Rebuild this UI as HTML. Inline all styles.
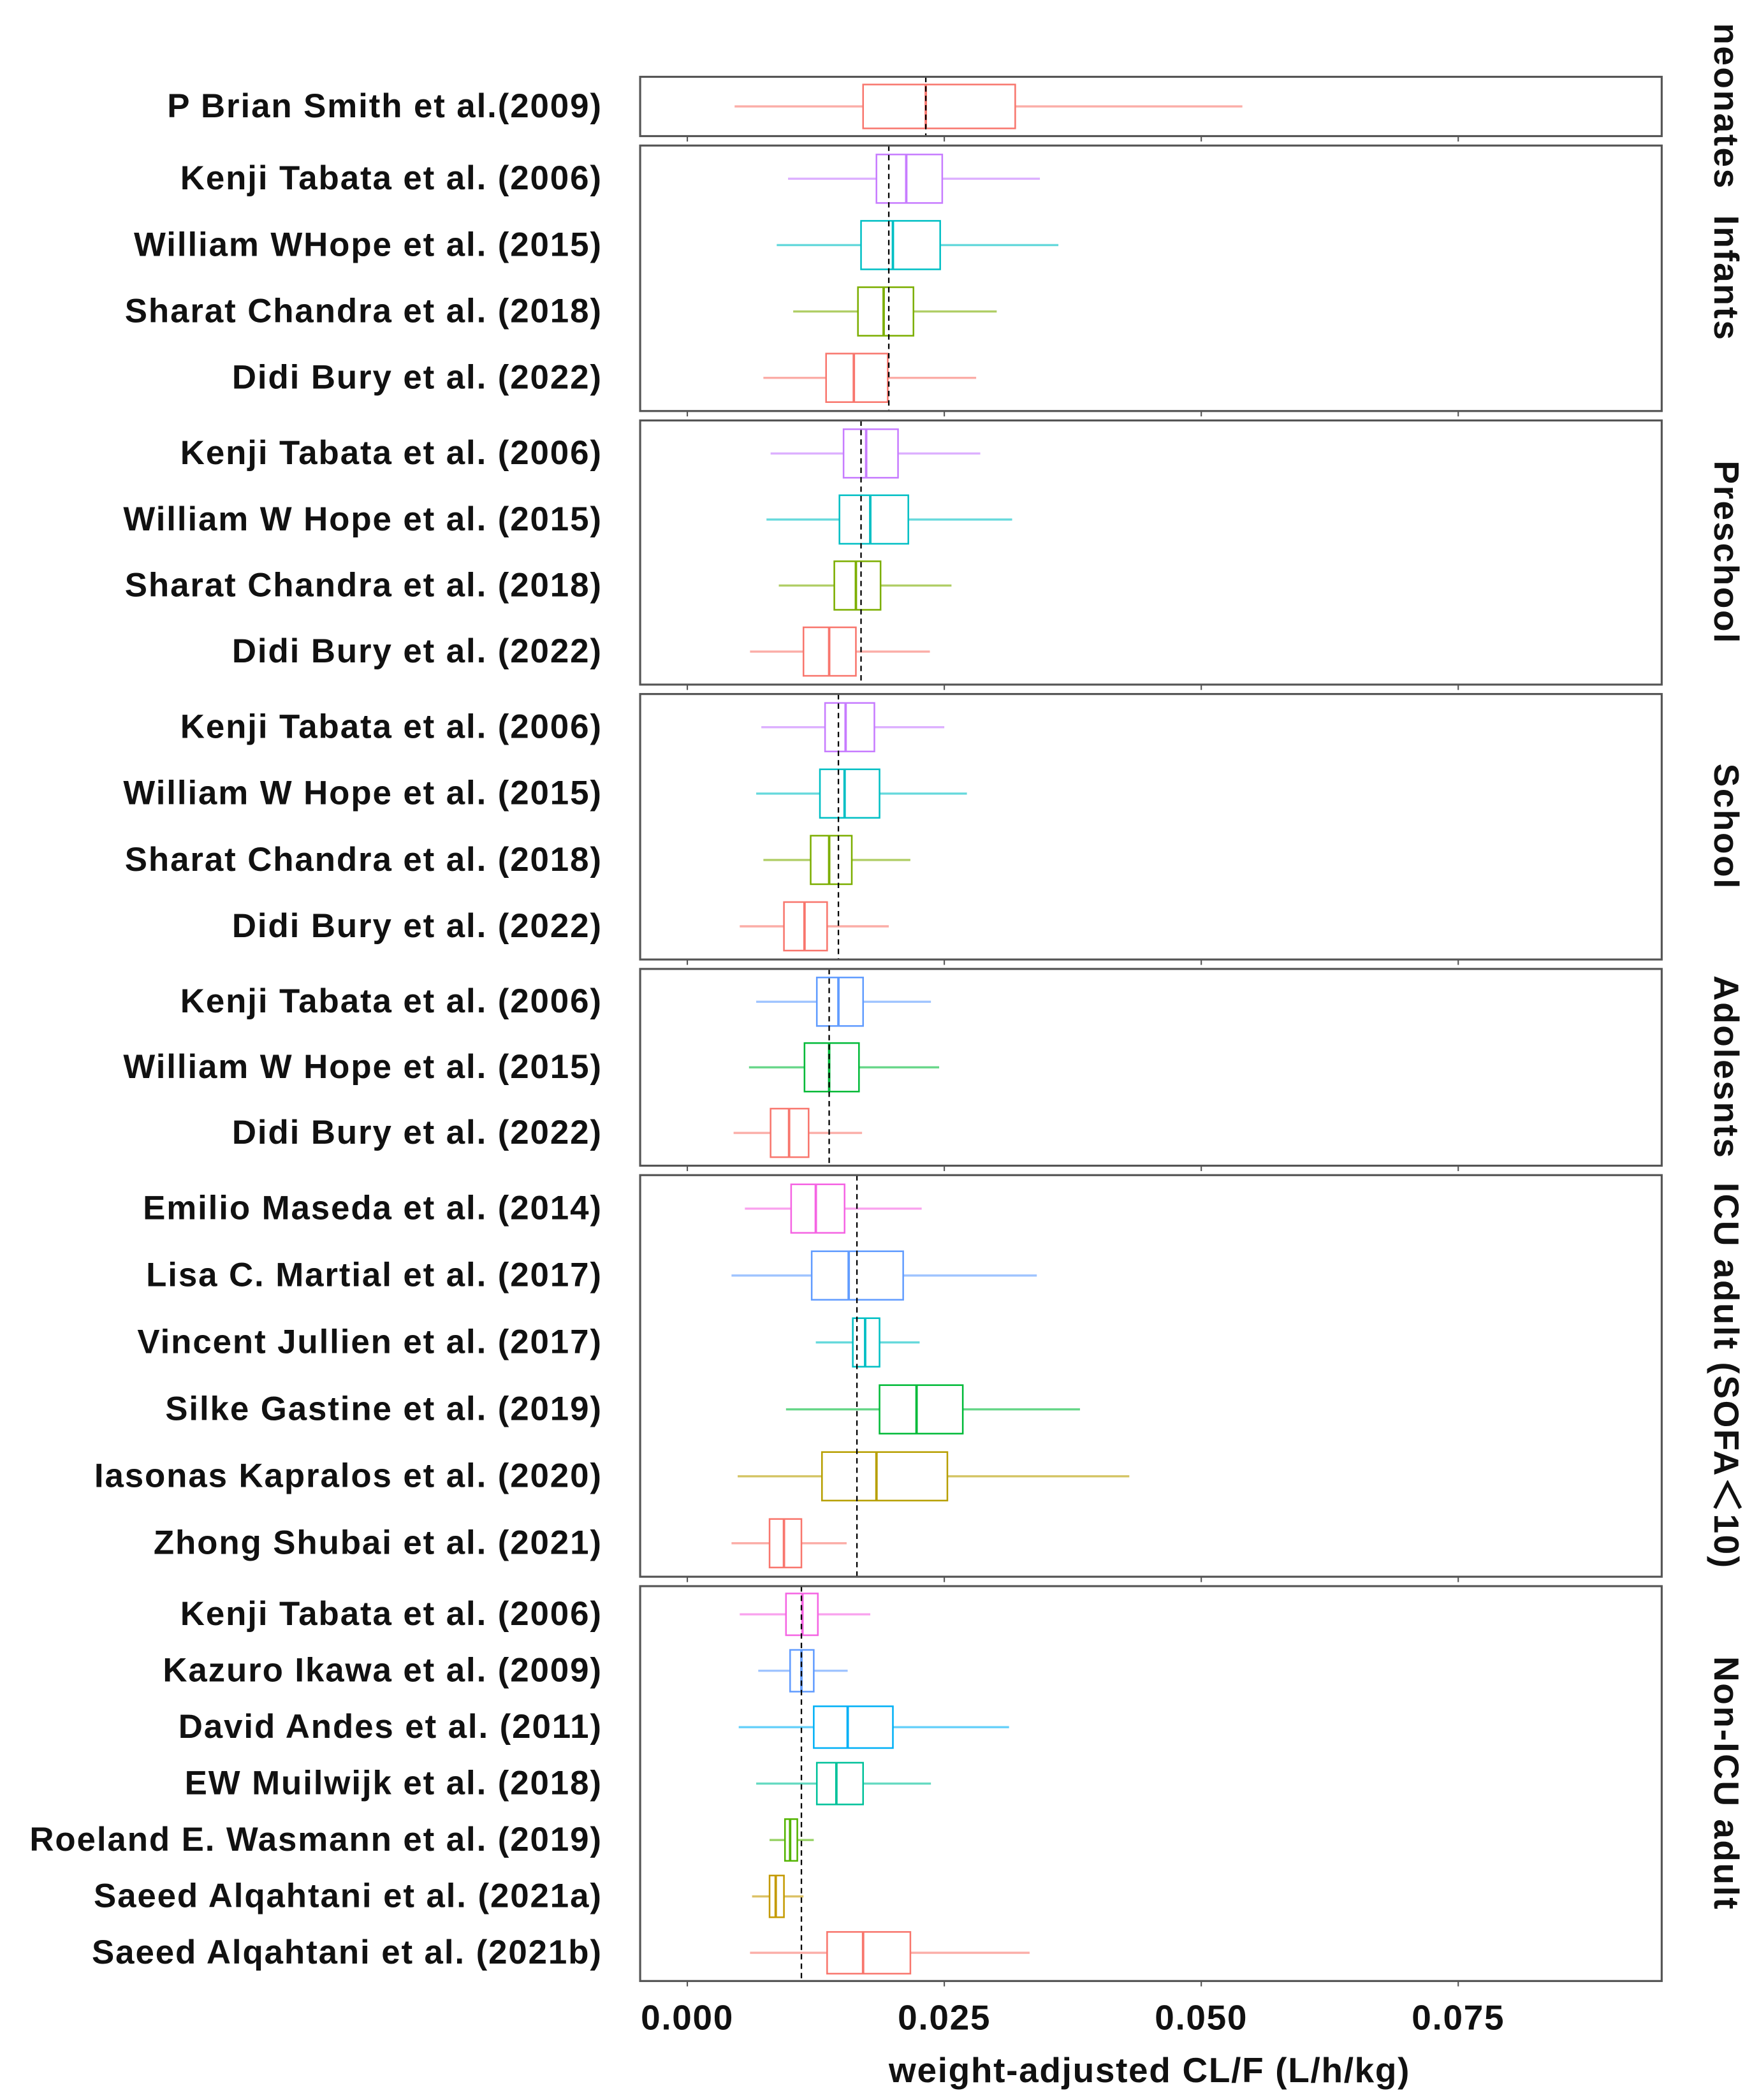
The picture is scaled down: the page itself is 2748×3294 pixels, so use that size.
<!DOCTYPE html>
<html><head><meta charset="utf-8"><style>
html,body{margin:0;padding:0;background:#fff;}
svg{display:block;font-family:"Liberation Sans",Arial,sans-serif;}
</style></head><body>
<svg id="chart" width="2748" height="3294" viewBox="0 0 1300 1558.3" preserveAspectRatio="none" xmlns="http://www.w3.org/2000/svg"></svg>
<script>
const panelNames = ["neonates","Infants","Preschool","School","Adolesnts","ICU adult (SOFA\uFF1C10)","Non-ICU adult"];
const panelRefs = [0.0232,0.0196,0.0169,0.0147,0.0138,0.0165,0.0111];
const studyLabels = [
 ["P Brian Smith et al.(2009)"],
 ["Kenji Tabata et al. (2006)","William WHope et al. (2015)","Sharat Chandra et al. (2018)","Didi Bury et al. (2022)"],
 ["Kenji Tabata et al. (2006)","William W Hope et al. (2015)","Sharat Chandra et al. (2018)","Didi Bury et al. (2022)"],
 ["Kenji Tabata et al. (2006)","William W Hope et al. (2015)","Sharat Chandra et al. (2018)","Didi Bury et al. (2022)"],
 ["Kenji Tabata et al. (2006)","William W Hope et al. (2015)","Didi Bury et al. (2022)"],
 ["Emilio Maseda et al. (2014)","Lisa C. Martial et al. (2017)","Vincent Jullien et al. (2017)","Silke Gastine et al. (2019)","Iasonas Kapralos et al. (2020)","Zhong Shubai et al. (2021)"],
 ["Kenji Tabata et al. (2006)","Kazuro Ikawa et al. (2009)","David Andes et al. (2011)","EW Muilwijk et al. (2018)","Roeland E. Wasmann et al. (2019)","Saeed Alqahtani et al. (2021a)","Saeed Alqahtani et al. (2021b)"]
];
const whiskerLow = [[0.0046],[0.0098,0.0087,0.0103,0.0074],[0.0081,0.0077,0.0089,0.0061],[0.0072,0.0067,0.0074,0.0051],[0.0067,0.0060,0.0045],[0.0056,0.0043,0.0125,0.0096,0.0049,0.0043],[0.0051,0.0069,0.0050,0.0067,0.0080,0.0063,0.0061]];
const quart1 = [[0.0171],[0.0184,0.0169,0.0166,0.0135],[0.0152,0.0148,0.0143,0.0113],[0.0134,0.0129,0.0120,0.0094],[0.0126,0.0114,0.0081],[0.0101,0.0121,0.0161,0.0187,0.0131,0.0080],[0.0096,0.0100,0.0123,0.0126,0.0095,0.0080,0.0136]];
const medians = [[0.0232],[0.0213,0.0200,0.0191,0.0162],[0.0174,0.0178,0.0164,0.0138],[0.0154,0.0153,0.0138,0.0114],[0.0147,0.0138,0.0099],[0.0125,0.0157,0.0173,0.0223,0.0184,0.0094],[0.0112,0.0111,0.0156,0.0145,0.0100,0.0086,0.0171]];
const quart3 = [[0.0319],[0.0248,0.0246,0.0220,0.0195],[0.0205,0.0215,0.0188,0.0164],[0.0182,0.0187,0.0160,0.0136],[0.0171,0.0167,0.0118],[0.0153,0.0210,0.0187,0.0268,0.0253,0.0111],[0.0127,0.0123,0.0200,0.0171,0.0107,0.0094,0.0217]];
const whiskerHigh = [[0.0540],[0.0343,0.0361,0.0301,0.0281],[0.0285,0.0316,0.0257,0.0236],[0.0250,0.0272,0.0217,0.0196],[0.0237,0.0245,0.0170],[0.0228,0.0340,0.0226,0.0382,0.0430,0.0155],[0.0178,0.0156,0.0313,0.0237,0.0123,0.0113,0.0333]];
const xTicks = [0,0.025,0.05,0.075];
const xTickLabels = ["0.000","0.025","0.050","0.075"];

// layout (not data)
const colors = [["#F8766D"],["#C77CFF","#00BFC4","#7CAE00","#F8766D"],["#C77CFF","#00BFC4","#7CAE00","#F8766D"],["#C77CFF","#00BFC4","#7CAE00","#F8766D"],["#619CFF","#00BA38","#F8766D"],["#F564E3","#619CFF","#00BFC4","#00BA38","#B79F00","#F8766D"],["#F564E3","#619CFF","#00B0F6","#00C19A","#53B400","#C49A00","#F8766D"]];
const panelBox = [[57,101],[108,305],[312,508],[515,712],[719,865],[872,1170],[1177,1470]];
const X0=510, XS=7627, PL=475, PR=1233;
const x = v => X0 + v*XS;
const svg = document.getElementById('chart');
const NS="http://www.w3.org/2000/svg";
function mk(tag, attrs, parent){const e=document.createElementNS(NS,tag);for(const k in attrs)e.setAttribute(k,attrs[k]);(parent||svg).appendChild(e);return e;}

panelNames.forEach((pn,p)=>{
  const [top,bot]=panelBox[p];
  const g=mk('g',{});
  
  
  const n=studyLabels[p].length;
  const rowH=(bot-top)/n;
  const bh=Math.min(36, rowH*0.74);
  studyLabels[p].forEach((lab,i)=>{
    const y=top+rowH*(i+0.5);
    const c=colors[p][i];
    const t=mk('text',{x:447,y:y+8,'text-anchor':'end','font-size':25,'letter-spacing':0.9,'font-weight':'bold',fill:'#111'},g);
    t.textContent=lab;
    
    
    const bg=mk('g',{},g);
    
    
    mk('line',{x1:x(whiskerLow[p][i]),x2:x(quart1[p][i]),y1:y,y2:y,stroke:c,'stroke-width':1.6,'stroke-opacity':0.6},bg);
    mk('line',{x1:x(quart3[p][i]),x2:x(whiskerHigh[p][i]),y1:y,y2:y,stroke:c,'stroke-width':1.6,'stroke-opacity':0.6},bg);
    mk('rect',{x:x(quart1[p][i]),y:y-bh/2,width:x(quart3[p][i])-x(quart1[p][i]),height:bh,fill:'none',stroke:c,'stroke-width':1.2},bg);
    mk('line',{x1:x(medians[p][i]),x2:x(medians[p][i]),y1:y-bh/2,y2:y+bh/2,stroke:c,'stroke-width':1.8},bg);
  });
  const r=mk('line',{x1:x(panelRefs[p]),x2:x(panelRefs[p]),y1:top,y2:bot,stroke:'#000','stroke-width':1.1,'stroke-dasharray':'4,3'},g);
  
  
  const fr=mk('rect',{x:PL,y:top,width:PR-PL,height:bot-top,fill:'none',stroke:'#555','stroke-width':1.5},g);
  
  
  xTicks.forEach(v=>mk('line',{x1:x(v),x2:x(v),y1:bot,y2:bot+4,stroke:'#555','stroke-width':1},g));
  const cy=(top+bot)/2;
  const st=mk('text',{x:1272,y:cy,'text-anchor':'middle','font-size':26,'letter-spacing':1.2,'font-weight':'bold',fill:'#111',transform:`rotate(90 1272 ${cy})`},g);
  st.textContent=pn;
  
  
});
xTicks.forEach((v,i)=>{
  const t=mk('text',{x:x(v),y:1506,'text-anchor':'middle','font-size':26,'letter-spacing':0.8,'font-weight':'bold',fill:'#111'});
  t.textContent=xTickLabels[i];
  
  
});
const at=mk('text',{x:853,y:1545,'text-anchor':'middle','font-size':26,'letter-spacing':0.8,'font-weight':'bold',fill:'#111'});
at.textContent='weight-adjusted CL/F (L/h/kg)';


</script>
</body></html>
